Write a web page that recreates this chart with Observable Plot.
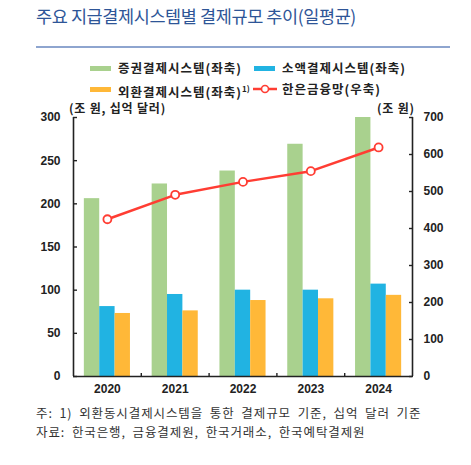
<!DOCTYPE html>
<html>
<head>
<meta charset="utf-8">
<script src="https://cdn.jsdelivr.net/npm/d3@7"></script>
<script src="https://cdn.jsdelivr.net/npm/@observablehq/plot@0.6"></script>
<style>
  body { margin: 0; width: 471px; height: 465px; position: relative; overflow: hidden; background: #fff;
         font-family: "Noto Sans CJK KR", "Noto Sans", sans-serif; color: #222; }
  .abs { position: absolute; white-space: nowrap; }
  .title { left: 36px; top: 4px; font-size: 17.5px; line-height: 24px; color: #2e5597; letter-spacing: -0.4px; }
  .rule { left: 36px; top: 46px; width: 414px; height: 2px; background: #8ea5cf; }
  .leg { font-size: 12.5px; font-weight: bold; line-height: 16px; color: #222; letter-spacing: 1px; }
  .sw { position: absolute; width: 21px; height: 5px; }
  .unit { font-size: 12px; font-weight: bold; line-height: 16px; letter-spacing: 0.8px; }
  .note { left: 36px; font-size: 12.5px; line-height: 16px; color: #333; letter-spacing: 0.9px; word-spacing: 3px; }
  sup { font-size: 8px; letter-spacing: 0; }
</style>
</head>
<body>
<div class="abs title">주요 지급결제시스템별 결제규모 추이(일평균)</div>
<div class="abs rule"></div>

<div class="sw" style="left:90px;top:66px;background:#a9d18e"></div>
<div class="abs leg" style="left:118px;top:60px">증권결제시스템(좌축)</div>
<div class="sw" style="left:254px;top:66px;background:#21b3e2"></div>
<div class="abs leg" style="left:282px;top:60px">소액결제시스템(좌축)</div>
<div class="sw" style="left:90px;top:87px;background:#ffb838"></div>
<div class="abs leg" style="left:118px;top:81px">외환결제시스템(좌축)<sup>1)</sup></div>
<svg class="abs" style="left:253px;top:83px" width="24" height="12">
  <line x1="0" y1="6" x2="24" y2="6" stroke="#ff3d33" stroke-width="2.5"></line>
  <circle cx="12" cy="6" r="3.5" fill="#fff" stroke="#ff3d33" stroke-width="1.6"></circle>
</svg>
<div class="abs leg" style="left:282px;top:81px">한은금융망(우축)</div>

<div class="abs unit" style="left:69px;top:100px">(조 원, 십억 달러)</div>
<div class="abs unit" style="left:377px;top:100px">(조 원)</div>

<div id="chart" class="abs" style="left:0;top:100px"></div>

<div class="abs note" style="top:405px">주: 1) 외환동시결제시스템을 통한 결제규모 기준, 십억 달러 기준</div>
<div class="abs note" style="top:424px">자료: 한국은행, 금융결제원, 한국거래소, 한국예탁결제원</div>

<script>
const years = [2020, 2021, 2022, 2023, 2024];
const seriesNames = ["증권결제시스템", "소액결제시스템", "외환결제시스템"];
const seriesColors = ["#a9d18e", "#21b3e2", "#ffb838"];
const securities = [206, 223, 238, 269, 300];
const retail = [81, 95, 100, 100, 107];
const forex = [73, 76, 88, 90, 94];
const bokWire = [425, 491, 526, 555, 619];
const leftTicks = [0, 50, 100, 150, 200, 250, 300];
const rightTicks = [0, 100, 200, 300, 400, 500, 600, 700];

// right axis (0–700) drawn on the left scale (0–300)
const ratio = 300 / 700;
const groupWidth = 0.68;
const barWidth = groupWidth / 3;

const bars = [securities, retail, forex].flatMap((values, k) =>
  values.map((v, i) => ({ year: years[i], value: v, series: seriesNames[k], slot: k }))
);
const line = years.map((y, i) => ({ year: y, value: bokWire[i] }));

const bold = { fontSize: 12, fontWeight: "bold", fill: "#222" };

const plot = Plot.plot({
  width: 471,
  height: 300,
  marginTop: 17,
  marginBottom: 24,
  marginLeft: 73,
  marginRight: 59,
  style: { fontFamily: "'Liberation Sans', Arial, sans-serif", fontSize: "12px", background: "transparent" },
  x: { domain: [years[0] - 0.5, years[years.length - 1] + 0.5] },
  y: { domain: [0, 300] },
  color: { domain: seriesNames, range: seriesColors },
  marks: [
    Plot.rectY(bars, {
      x1: (d) => d.year - groupWidth / 2 + d.slot * barWidth,
      x2: (d) => d.year - groupWidth / 2 + (d.slot + 1) * barWidth,
      y: "value",
      fill: "series",
    }),
    Plot.line(line, { x: "year", y: (d) => d.value * ratio, stroke: "#ff3d33", strokeWidth: 2.5 }),
    Plot.dot(line, { x: "year", y: (d) => d.value * ratio, r: 4, fill: "#fff", stroke: "#ff3d33", strokeWidth: 1.8 }),

    // axis lines
    Plot.ruleX([years[0] - 0.5, years[years.length - 1] + 0.5], { stroke: "#222", strokeWidth: 1.6 }),
    Plot.ruleY([0], { stroke: "#222", strokeWidth: 1.6 }),

    // left axis
    Plot.axisY({ ticks: leftTicks, tickSize: 0, tickPadding: 13, label: null, ...bold }),
    Plot.axisY({ ticks: leftTicks, tickSize: 4, dx: 4, tickFormat: () => "", label: null, strokeWidth: 1.4 }),

    // right axis
    Plot.axisY({
      anchor: "right",
      ticks: rightTicks.map((v) => v * ratio),
      tickFormat: (v) => String(Math.round(v / ratio)),
      tickSize: 0,
      tickPadding: 11,
      label: null,
      ...bold,
    }),
    Plot.axisY({
      anchor: "right",
      ticks: rightTicks.map((v) => v * ratio),
      tickSize: 4,
      dx: -4,
      tickFormat: () => "",
      label: null,
      strokeWidth: 1.4,
    }),

    // x axis
    Plot.axisX({ ticks: years, tickSize: 0, tickPadding: 8, tickFormat: (d) => String(d), label: null, ...bold }),
    Plot.axisX({
      ticks: years.slice(0, -1).map((y) => y + 0.5),
      tickSize: 3,
      dy: -3,
      tickFormat: () => "",
      label: null,
      strokeWidth: 1.4,
    }),
  ],
});

document.querySelector("#chart").append(plot);
</script>
</body>
</html>
